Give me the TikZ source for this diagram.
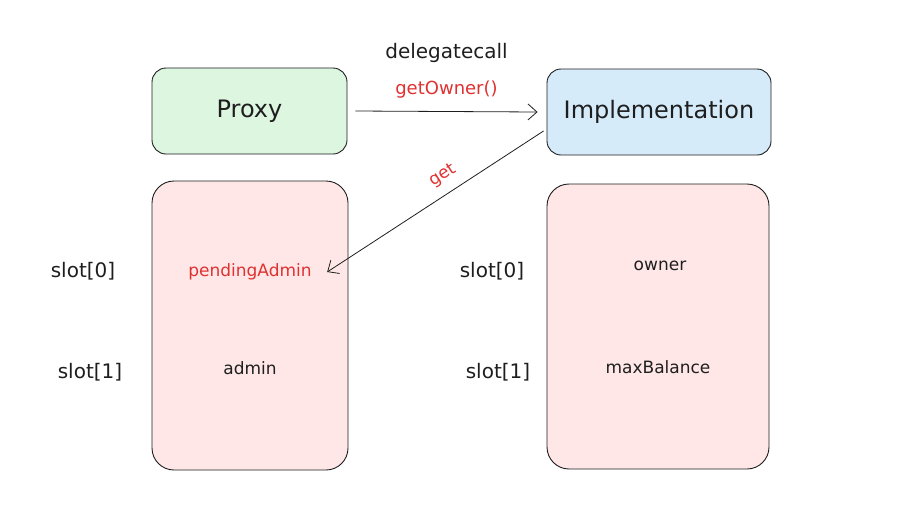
\documentclass[tikz,border=0pt]{standalone}
\usepackage{fontspec}
\setmainfont{DejaVu Sans}
\usepackage{tikz}
\usetikzlibrary{arrows.meta}
\usetikzlibrary{positioning}
\definecolor{inkblack}{RGB}{30,30,30}
\definecolor{inkred}{RGB}{224,49,49}
\definecolor{proxyfill}{RGB}{220,246,224}
\definecolor{implfill}{RGB}{214,235,250}
\definecolor{slotfill}{RGB}{255,231,231}
\tikzstyle{box} = [draw=inkblack, line width=0.9pt, rounded corners=14pt, text=inkblack, font=\fontsize{24}{27}\selectfont]
\tikzstyle{store} = [draw=inkblack, line width=0.9pt, rounded corners=22pt]
\tikzstyle{lbl} = [text=inkblack, font=\fontsize{17}{20}\selectfont]
\tikzstyle{slotlbl} = [text=inkblack, font=\fontsize{20}{23}\selectfont]
\tikzstyle{redlbl} = [text=inkred, font=\fontsize{17}{20}\selectfont]
\tikzstyle{call} = [draw=inkblack, line width=0.8pt, -{Straight Barb[length=9pt,width=16pt,line width=0.8pt]}]

\begin{document}
\begin{tikzpicture}[x=1pt,y=-1pt]
				\useasboundingbox (0,0) rectangle (897,520);
				% contracts
				\node[box,fill=proxyfill,minimum width=195pt,minimum height=86pt] (proxy) at (249.5,111) {Proxy};
				\node[box,fill=implfill,minimum width=224pt,minimum height=86pt] (impl) at (659,112) {Implementation};
				% storage
				\node[store,fill=slotfill,minimum width=196pt,minimum height=289pt] (proxystore) at (250,325.5) {};
				\node[store,fill=slotfill,minimum width=222pt,minimum height=285pt] (implstore) at (658,326.5) {};
				\node[redlbl] (pending) at (250,272) {pendingAdmin};
				\node[lbl] (admin) at (250,368) {admin};
				\node[lbl] (owner) at (660,266) {owner};
				\node[lbl] (maxbal) at (658,367) {maxBalance};
				\node[slotlbl] (pslot0) at (83,271) {slot[0]};
				\node[slotlbl] (pslot1) at (90,372) {slot[1]};
				\node[slotlbl] (islot0) at (492,271) {slot[0]};
				\node[slotlbl] (islot1) at (498,372) {slot[1]};
				% calls
				\draw[call] ([xshift=8pt]proxy.east) -- node[redlbl,font=\fontsize{18}{21}\selectfont,above=10pt] (getowner) {getOwner()} ([xshift=-9pt]impl.west);
				\node[slotlbl,above=10pt of getowner] (delegate) {delegatecall};
				\draw[call] ([yshift=-19pt,xshift=-3pt]impl.west) -- node[redlbl,pos=0.42,sloped,above=6pt] (get) {get} ([xshift=12pt]pending.east);
\end{tikzpicture}
\end{document}
